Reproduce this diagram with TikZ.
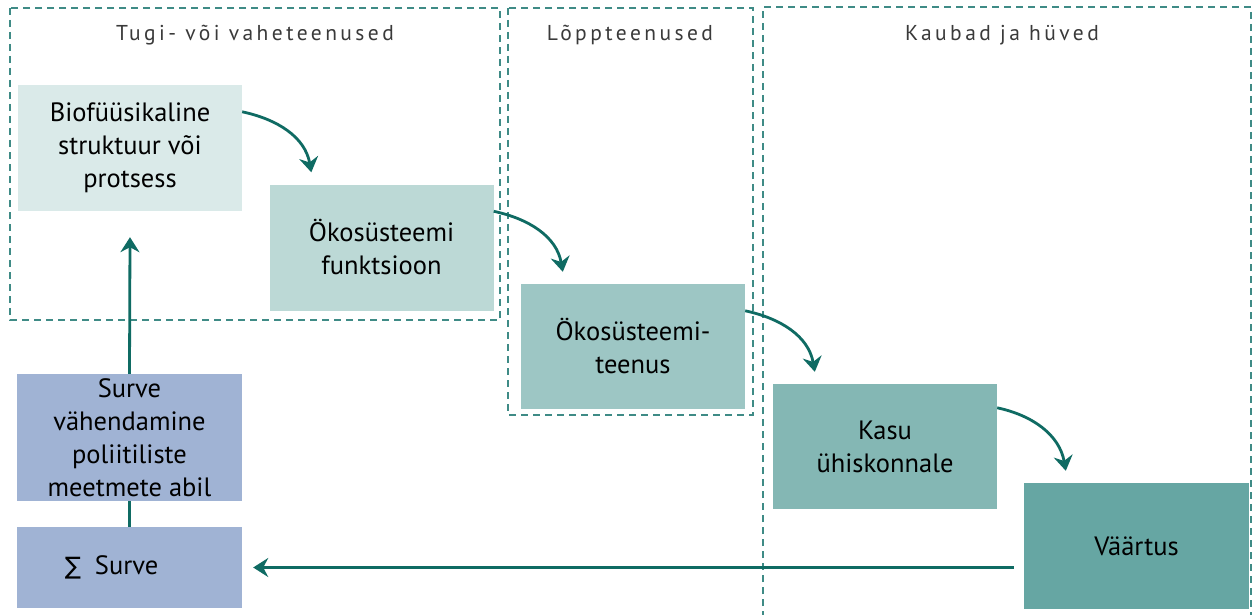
\documentclass[tikz,border=0pt]{standalone}
\usepackage{fontspec}
\setmainfont{PT Sans}
\newfontfamily\headfont[LetterSpace=16]{PT Sans}
\newfontfamily\symfont{DejaVu Sans}
\usetikzlibrary{arrows.meta,calc}
\definecolor{dashc}{HTML}{3F8B86}
\definecolor{arrc}{HTML}{0F6B63}
\definecolor{cBio}{HTML}{DAEAE9}
\definecolor{cFun}{HTML}{BCD9D6}
\definecolor{cTen}{HTML}{9DC6C4}
\definecolor{cKasu}{HTML}{84B7B4}
\definecolor{cVaar}{HTML}{66A6A3}
\definecolor{cSurve}{HTML}{A0B3D4}
\definecolor{headc}{HTML}{3A3A3A}
\tikzset{
  box/.style={rectangle, inner sep=0pt, align=center, text=black,
    font=\fontsize{26.5}{33}\selectfont},
  grp/.style={draw=dashc, line width=1.3pt, dash pattern=on 7pt off 5pt},
  head/.style={font=\headfont\fontsize{21.5}{24}\selectfont, text=headc, inner sep=0pt},
  flow/.style={draw=arrc, line width=2.8pt, -{Stealth[length=15pt,width=19pt,inset=5pt]}},
  link/.style={draw=arrc, line width=2.8pt}
}
\begin{document}
\begin{tikzpicture}[x=1pt,y=-1pt]
\useasboundingbox (0,0) rectangle (1255,615);
\fill[white] (0,0) rectangle (1255,615);
% group frames
\draw[grp] (10,8) rectangle (500,320);
\draw[grp] (508,8) rectangle (753,415);
\draw[grp] (763,630) -- (763,7) -- (1251,7) -- (1251,630);
\node[head] (h1) at (255,35) {Tugi- või vaheteenused};
\node[head] (h2) at (630,35) {Lõppteenused};
\node[head] (h3) at (1002,35) {Kaubad ja hüved};
% boxes
\node[box, fill=cBio, minimum width=224pt, minimum height=126pt] (bio) at (130,148) {Biofüüsikaline\\struktuur või\\protsess};
\node[box, fill=cFun, minimum width=224pt, minimum height=126pt] (fun) at (381.5,247.5) {Ökosüsteemi\\funktsioon};
\node[box, fill=cTen, minimum width=224pt, minimum height=125pt] (ten) at (633,346.5) {Ökosüsteemi-\\teenus};
\node[box, fill=cKasu, minimum width=224pt, minimum height=125pt] (kasu) at (885,446.5) {Kasu\\ühiskonnale};
\node[box, fill=cVaar, minimum width=225pt, minimum height=126pt] (vaar) at (1136.5,546) {Väärtus};
\node[box, fill=cSurve, minimum width=225pt, minimum height=127pt] (surve) at (129.5,437.5) {Surve\\vähendamine\\poliitiliste\\meetmete abil};
\node[box, fill=cSurve, minimum width=225pt, minimum height=81pt] (sigma) at (129.5,567.5) {{\symfont\fontsize{24}{30}\selectfont ∑}\hspace{14pt}Surve\hspace{36pt}};
% arrows
\draw[flow] ([yshift=-27pt]bio.north east) to[out=-12,in=100] ([xshift=42pt,yshift=12pt]fun.north west);
\draw[flow] ([yshift=-27pt]fun.north east) to[out=-12,in=100] ([xshift=42pt,yshift=12pt]ten.north west);
\draw[flow] ([yshift=-27pt]ten.north east) to[out=-12,in=100] ([xshift=42pt,yshift=12pt]kasu.north west);
\draw[flow] ([yshift=-24pt]kasu.north east) to[out=-12,in=100] ([xshift=42pt,yshift=12pt]vaar.north west);
\draw[flow] (surve.north) -- ([yshift=-26pt]bio.south);
\draw[link] (sigma.north) -- (surve.south);
\draw[flow] ([xshift=-10pt]vaar.west |- sigma.east) -- ([xshift=11pt]sigma.east);
\end{tikzpicture}
\end{document}
